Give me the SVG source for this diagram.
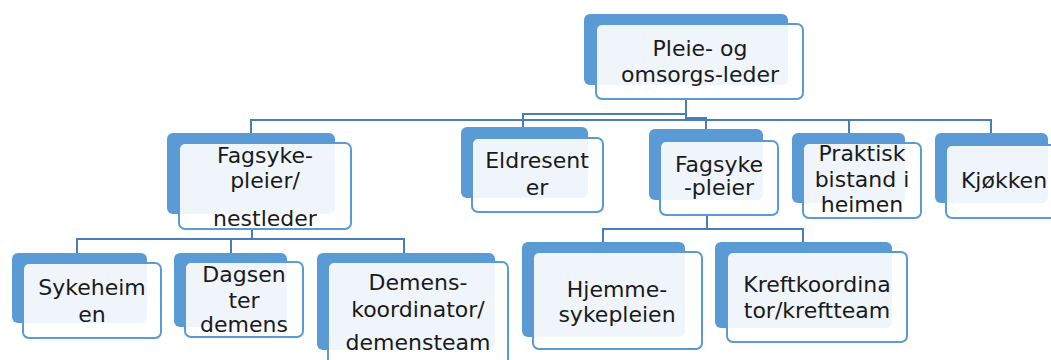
<svg xmlns="http://www.w3.org/2000/svg" width="1051" height="360" viewBox="0 0 1051 360">
<style>
.bk{fill:#5b9bd5;}
.fr{fill:#ffffff;fill-opacity:0.9;stroke:#5b9bd5;stroke-width:2;}
.cn{fill:none;stroke:#4a7ebb;stroke-width:2;}
text{font-family:"DejaVu Sans","Liberation Sans",sans-serif;font-size:22px;fill:#1a1a1a;text-anchor:middle;}
</style>
<rect width="1051" height="360" fill="#ffffff"/>
<g id="connectors">
<path class="cn" d="M686,99 V120 H251 V133"/>
<path class="cn" d="M686,99 V114 H523 V127"/>
<path class="cn" d="M686,99 V118 H706 V129"/>
<path class="cn" d="M686,99 V120 H849 V133"/>
<path class="cn" d="M686,99 V120 H991 V133"/>
<path class="cn" d="M252,229 V239 H77 V253"/>
<path class="cn" d="M252,229 V239 H231 V253"/>
<path class="cn" d="M252,229 V239 H404 V253"/>
<path class="cn" d="M707,215 V229 H603 V242"/>
<path class="cn" d="M707,215 V229 H803 V242"/>
</g>
<g id="n-leder">
<rect class="bk" x="584" y="14" width="204" height="71" rx="6"/>
<rect class="fr" x="596" y="24" width="207" height="75" rx="6"/>
<text x="700" y="56">Pleie- og</text>
<text x="700" y="82">omsorgs-leder</text>
</g>
<g id="n-fagsykepleier-nestleder">
<rect class="bk" x="167" y="133" width="168" height="81" rx="6"/>
<rect class="fr" x="179" y="143" width="172" height="86" rx="6"/>
<text x="265" y="163">Fagsyke-</text>
<text x="265" y="188">pleier/</text>
<text x="265" y="226">nestleder</text>
</g>
<g id="n-eldresenter">
<rect class="bk" x="461" y="127" width="127" height="71" rx="6"/>
<rect class="fr" x="472" y="138" width="131" height="74" rx="6"/>
<text x="537" y="168">Eldresent</text>
<text x="537" y="195">er</text>
</g>
<g id="n-fagsykepleier">
<rect class="bk" x="649" y="129" width="114" height="71" rx="6"/>
<rect class="fr" x="660" y="141" width="118" height="74" rx="6"/>
<text x="719" y="172">Fagsyke</text>
<text x="719" y="195">-pleier</text>
</g>
<g id="n-praktisk">
<rect class="bk" x="792" y="133" width="113" height="70" rx="6"/>
<rect class="fr" x="803" y="143" width="118" height="75" rx="6"/>
<text x="862" y="161">Praktisk</text>
<text x="862" y="187">bistand i</text>
<text x="862" y="212">heimen</text>
</g>
<g id="n-kjokken">
<rect class="bk" x="935" y="133" width="113" height="70" rx="6"/>
<rect class="fr" x="946" y="145" width="118" height="73" rx="6"/>
<text x="1004" y="188">Kjøkken</text>
</g>
<g id="n-sykeheimen">
<rect class="bk" x="12" y="253" width="135" height="70" rx="6"/>
<rect class="fr" x="23" y="263" width="138" height="75" rx="6"/>
<text x="92" y="295">Sykeheim</text>
<text x="92" y="322">en</text>
</g>
<g id="n-dagsenter">
<rect class="bk" x="174" y="253" width="113" height="74" rx="6"/>
<rect class="fr" x="185" y="262" width="118" height="75" rx="6"/>
<text x="244" y="282">Dagsen</text>
<text x="244" y="308">ter</text>
<text x="244" y="332">demens</text>
</g>
<g id="n-demens">
<rect class="bk" x="317" y="253" width="178" height="97" rx="6"/>
<rect class="fr" x="328" y="262" width="180" height="108" rx="6"/>
<text x="418" y="290">Demens-</text>
<text x="418" y="317">koordinator/</text>
<text x="418" y="350">demensteam</text>
</g>
<g id="n-hjemmesykepleien">
<rect class="bk" x="522" y="242" width="163" height="95" rx="6"/>
<rect class="fr" x="533" y="252" width="169" height="97" rx="6"/>
<text x="617" y="297">Hjemme-</text>
<text x="617" y="322">sykepleien</text>
</g>
<g id="n-kreft">
<rect class="bk" x="715" y="242" width="177" height="86" rx="6"/>
<rect class="fr" x="727" y="252" width="180" height="90" rx="6"/>
<text x="817" y="292">Kreftkoordina</text>
<text x="817" y="318">tor/kreftteam</text>
</g>
</svg>
